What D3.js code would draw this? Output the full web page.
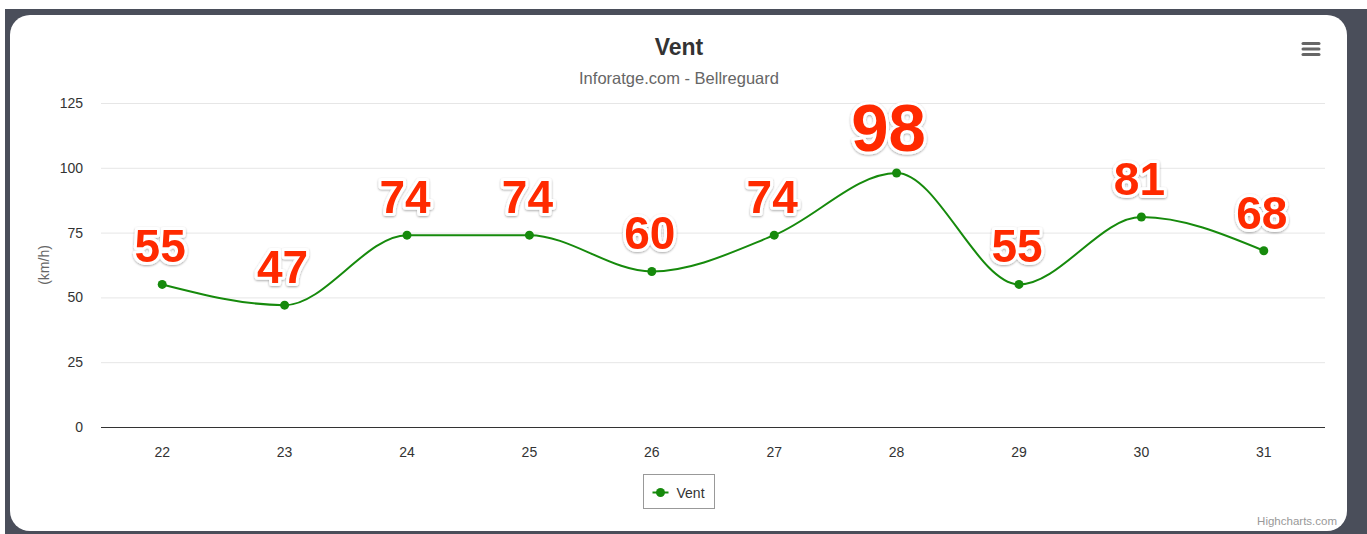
<!DOCTYPE html>
<html>
<head>
<meta charset="utf-8">
<script src="https://cdn.jsdelivr.net/npm/d3@7"></script>
<style>
  html, body { margin: 0; padding: 0; background: #fff; }
  svg { display: block; font-family: "Helvetica Neue", Helvetica, Arial, "Liberation Sans", sans-serif; }
  .grid line { stroke: #e6e6e6; }
  .tick text { fill: #333; font-size: 14px; }
  .label { font-family: Arial, "Liberation Sans", sans-serif; font-weight: bold; fill: #ff2a00;
           stroke: #fff; stroke-width: 6px; stroke-linejoin: round; paint-order: stroke; }
</style>
</head>
<body>
<svg width="1367" height="534"></svg>
<script>
let days = ["22", "23", "24", "25", "26", "27", "28", "29", "30", "31"];
let vent = [55, 47, 74, 74, 60, 74, 98, 55, 81, 68];
let yTicks = [0, 25, 50, 75, 100, 125];

let svg = d3.select("svg");

// frame + card
svg.append("rect").attr("x", 5).attr("y", 9).attr("width", 1362).attr("height", 525).attr("fill", "#4a4e5a");
svg.append("rect").attr("x", 10).attr("y", 15).attr("width", 1337).attr("height", 516)
    .attr("rx", 20).attr("fill", "#fff");

let defs = svg.append("defs");
let f = defs.append("filter").attr("id", "shadow").attr("x", "-20%").attr("y", "-20%").attr("width", "140%").attr("height", "140%");
f.append("feDropShadow").attr("dx", 0).attr("dy", 1).attr("stdDeviation", 1.2).attr("flood-color", "#000").attr("flood-opacity", 0.35);

let margin = {top: 103, left: 101},
    width = 1224,
    height = 324;

let x = d3.scaleBand().domain(days).range([0, width]),
    y = d3.scaleLinear().domain([0, 125]).range([height, 0]);

let g = svg.append("g").attr("transform", "translate(" + margin.left + "," + margin.top + ")");

// grid
g.append("g").attr("class", "grid")
    .selectAll("line").data(yTicks.slice(1)).enter().append("line")
    .attr("x1", 0).attr("x2", width)
    .attr("y1", d => y(d) + 0.5).attr("y2", d => y(d) + 0.5);

let yAxis = g.append("g")
    .call(d3.axisLeft(y).tickValues(yTicks).tickSize(0).tickPadding(18));
yAxis.select(".domain").remove();

let xAxis = g.append("g")
    .attr("transform", "translate(0," + height + ")")
    .call(d3.axisBottom(x).tickSize(0).tickPadding(20));
xAxis.select(".domain").attr("stroke", "#333").attr("d", "M0,0.5H" + width);

svg.append("text")
    .attr("transform", "translate(49,265) rotate(-90)")
    .attr("text-anchor", "middle")
    .attr("fill", "#666").style("font-size", "14px")
    .text("(km/h)");

// line
let cx = (d, i) => x(days[i]) + x.bandwidth() / 2;
let line = d3.line().x(cx).y(d => y(d)).curve(d3.curveMonotoneX);

g.append("path").datum(vent)
    .attr("fill", "none").attr("stroke", "#168a0c").attr("stroke-width", 2)
    .attr("d", line);

g.selectAll(".dot").data(vent).enter().append("circle")
    .attr("class", "dot")
    .attr("cx", cx).attr("cy", d => y(d)).attr("r", 4.5)
    .attr("fill", "#168a0c");

let maxV = d3.max(vent);
g.selectAll(".label").data(vent).enter().append("text")
    .attr("class", "label")
    .attr("x", (d, i) => cx(d, i) - (d === maxV ? 8 : 2)).attr("y", d => y(d) - 22)
    .attr("text-anchor", "middle")
    .attr("filter", "url(#shadow)")
    .style("font-size", d => d === maxV ? "67px" : "46px")
    .text(d => d);

// title
svg.append("text").attr("x", 679).attr("y", 55).attr("text-anchor", "middle")
    .attr("fill", "#333").style("font-size", "23px").style("font-weight", "bold").text("Vent");
svg.append("text").attr("x", 679).attr("y", 84).attr("text-anchor", "middle")
    .attr("fill", "#666").style("font-size", "16.5px").text("Inforatge.com - Bellreguard");

// menu icon
svg.append("g").selectAll("line").data([43.5, 49, 54.5]).enter().append("line")
    .attr("x1", 1303).attr("x2", 1319).attr("y1", d => d).attr("y2", d => d)
    .attr("stroke", "#666").attr("stroke-width", 3).attr("stroke-linecap", "round");

// legend
let lg = svg.append("g").attr("transform", "translate(643.5,474.5)");
lg.append("rect").attr("width", 71).attr("height", 34).attr("fill", "#fff").attr("stroke", "#999");
lg.append("line").attr("x1", 9).attr("x2", 25).attr("y1", 18).attr("y2", 18)
    .attr("stroke", "#168a0c").attr("stroke-width", 2);
lg.append("circle").attr("cx", 17).attr("cy", 18).attr("r", 4.5).attr("fill", "#168a0c");
lg.append("text").attr("x", 33).attr("y", 23).attr("fill", "#333").style("font-size", "14px").text("Vent");

// credits
svg.append("text").attr("x", 1337).attr("y", 525).attr("text-anchor", "end")
    .attr("fill", "#999").style("font-size", "11.5px").text("Highcharts.com");
</script>
</body>
</html>
